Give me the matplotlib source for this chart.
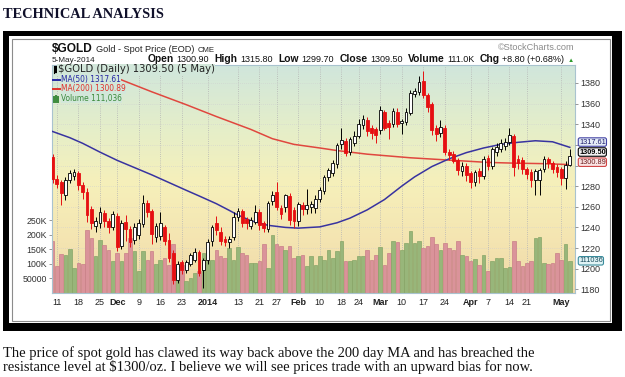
import numpy as np
import pandas as pd
import matplotlib
matplotlib.use("Agg")
import matplotlib.pyplot as plt
from matplotlib.patches import Rectangle
from matplotlib.lines import Line2D
from matplotlib.colors import LinearSegmentedColormap
from matplotlib.transforms import blended_transform_factory, ScaledTranslation

# ------------------------------------------------------------------ data
start_date = "2013-11-08"
end_date = "2014-05-05"
holidays = ["2013-11-28", "2013-12-25", "2014-01-01",
            "2014-01-20", "2014-02-17", "2014-04-18"]

opens = [1308, 1287, 1284, 1271, 1286, 1290, 1293, 1281, 1274, 1258,
         1241, 1244, 1254, 1246, 1240, 1251, 1222, 1245, 1238, 1228,
         1233, 1243, 1264, 1256, 1231, 1232, 1240, 1228, 1215, 1189,
         1206, 1199, 1205, 1208, 1216, 1199, 1208, 1227, 1244, 1236,
         1229, 1226, 1231, 1250, 1256, 1248, 1241, 1245, 1255, 1244,
         1238, 1266, 1274, 1259, 1260, 1270, 1257, 1246, 1262, 1258,
         1260, 1259, 1268, 1275, 1289, 1293, 1301, 1321, 1324, 1313,
         1322, 1329, 1339, 1344, 1336, 1335, 1334, 1352, 1341, 1340,
         1352, 1341, 1342, 1351, 1369, 1371, 1382, 1368, 1360, 1336,
         1332, 1336, 1313, 1311, 1305, 1295, 1300, 1293, 1284, 1295,
         1290, 1307, 1300, 1313, 1316, 1319, 1323, 1329, 1306, 1305,
         1297, 1294, 1286, 1286, 1297, 1306, 1302, 1299, 1297, 1288,
         1300.9]
highs = [1311, 1291, 1286, 1289, 1296, 1297, 1295, 1284, 1278, 1261,
         1250, 1260, 1257, 1249, 1256, 1254, 1247, 1252, 1241, 1244,
         1248, 1271, 1267, 1258, 1244, 1255, 1242, 1235, 1218, 1207,
         1208, 1208, 1215, 1220, 1218, 1210, 1229, 1242, 1251, 1240,
         1232, 1232, 1255, 1259, 1258, 1250, 1250, 1262, 1258, 1246,
         1266, 1275, 1284, 1262, 1272, 1273, 1260, 1265, 1265, 1277,
         1266, 1271, 1279, 1291, 1298, 1305, 1322, 1336, 1327, 1328,
         1333, 1345, 1349, 1347, 1339, 1337, 1358, 1354, 1344, 1356,
         1356, 1345, 1356, 1373, 1375, 1387, 1392, 1370, 1362, 1339,
         1344, 1339, 1316, 1314, 1307, 1303, 1302, 1295, 1296, 1298,
         1309, 1310, 1318, 1322, 1326, 1327, 1336, 1331, 1310, 1308,
         1299, 1297, 1297, 1298, 1309, 1308, 1304, 1301, 1299, 1304,
         1315.8]
lows = [1283, 1278, 1262, 1267, 1283, 1286, 1276, 1268, 1245, 1238,
        1236, 1239, 1240, 1235, 1237, 1217, 1219, 1227, 1221, 1224,
        1229, 1240, 1250, 1224, 1226, 1228, 1223, 1206, 1185, 1186,
        1195, 1196, 1203, 1206, 1193, 1181, 1205, 1222, 1233, 1223,
        1222, 1220, 1228, 1246, 1240, 1238, 1238, 1243, 1237, 1236,
        1236, 1262, 1257, 1248, 1255, 1242, 1239, 1241, 1252, 1253,
        1254, 1254, 1265, 1272, 1285, 1290, 1298, 1316, 1309, 1310,
        1319, 1327, 1335, 1329, 1326, 1322, 1331, 1334, 1326, 1337,
        1337, 1331, 1339, 1349, 1366, 1368, 1365, 1352, 1330, 1324,
        1328, 1310, 1305, 1302, 1291, 1290, 1285, 1278, 1280, 1283,
        1287, 1296, 1297, 1309, 1313, 1315, 1320, 1290, 1297, 1292,
        1287, 1279, 1271, 1271, 1294, 1298, 1293, 1289, 1281, 1277,
        1299.7]
closes = [1287, 1282, 1273, 1286, 1293, 1294, 1281, 1274, 1252, 1244,
          1246, 1255, 1246, 1240, 1253, 1221, 1244, 1238, 1226, 1240,
          1244, 1264, 1255, 1234, 1241, 1244, 1227, 1210, 1189, 1205,
          1199, 1206, 1213, 1216, 1196, 1208, 1226, 1240, 1237, 1227,
          1226, 1229, 1250, 1256, 1244, 1244, 1247, 1255, 1242, 1239,
          1264, 1271, 1260, 1253, 1271, 1247, 1246, 1263, 1258, 1262,
          1263, 1268, 1276, 1289, 1296, 1302, 1320, 1325, 1312, 1326,
          1329, 1340, 1345, 1333, 1332, 1330, 1354, 1336, 1337, 1353,
          1340, 1343, 1352, 1370, 1372, 1381, 1368, 1357, 1334, 1331,
          1337, 1313, 1310, 1304, 1296, 1300, 1291, 1284, 1294, 1290,
          1306, 1300, 1316, 1318, 1322, 1323, 1330, 1299, 1302, 1297,
          1292, 1286, 1295, 1296, 1306, 1302, 1297, 1294, 1288, 1300.7,
          1309.5]
volumes_k = [178, 92.4, 135, 132.7, 153.4, 86.7, 103.9, 100.5, 218.9, 190.1,
             126.9, 184.4, 164.9, 149.9, 109.7, 138.4, 112, 138.4, 190.1, 144.2,
             75.2, 144.2, 115.4, 146.5, 100.5, 115.4, 121.2, 98.2, 167.2, 98.2,
             98.2, 40.7, 52.2, 69.5, 75.2, 138.4, 109.7, 115.4, 149.9, 126.9,
             121.2, 155.7, 115.4, 158, 138.4, 132.7, 103.9, 103.9, 109.7, 167.2,
             86.7, 201.6, 167.2, 161.4, 149.9, 161.4, 121.2, 126.9, 132.7, 92.4,
             126.9, 98.2, 126.9, 115.4, 149.9, 121.2, 144.2, 178.6, 112, 109.7,
             115.4, 126.9, 126.9, 149.9, 115.4, 132.7, 158, 98.2, 138.4, 178.6,
             176.3, 149.9, 172.9, 213.1, 172.9, 178.6, 155.7, 161.4, 192.4, 167.2,
             149.9, 172.9, 155.7, 149.9, 178.6, 132.7, 126.9, 109.7, 118.9, 98.2,
             132.7, 75.2, 112, 121.2, 121.2, 86.7, 89, 178.6, 112, 92.4,
             103.9, 112, 190.1, 193.6, 103.9, 100.5, 103.9, 138.4, 115.4, 167.2,
             111.036]

ma50_dates = ["2013-11-08", "2013-11-14", "2013-11-19", "2013-11-25", "2013-12-02",
              "2013-12-06", "2013-12-12", "2013-12-18", "2013-12-24", "2013-12-30",
              "2014-01-06", "2014-01-09", "2014-01-13", "2014-01-16", "2014-01-23",
              "2014-01-29", "2014-02-03", "2014-02-10", "2014-02-14", "2014-02-20",
              "2014-02-26", "2014-03-04", "2014-03-10", "2014-03-13", "2014-03-19",
              "2014-03-25", "2014-03-31", "2014-04-04", "2014-04-10", "2014-04-16",
              "2014-04-23", "2014-04-29", "2014-05-05"]
ma50_values = [1333, 1327, 1321.5, 1313, 1305, 1298, 1291, 1283.5, 1276, 1270.5,
               1263, 1256.5, 1252, 1246.5, 1242, 1240, 1239.3, 1240.5, 1244.5, 1249,
               1257, 1267, 1280, 1289, 1299, 1306.5, 1312.5, 1317, 1320.5, 1322.5,
               1324, 1323, 1317.61]
ma200_dates = ["2013-11-08", "2013-11-20", "2013-12-03", "2013-12-12", "2013-12-24",
               "2014-01-06", "2014-01-16", "2014-01-24", "2014-01-31", "2014-02-10",
               "2014-02-14", "2014-02-26", "2014-03-12", "2014-03-26", "2014-04-07",
               "2014-04-15", "2014-04-25", "2014-05-05"]
ma200_values = [1411, 1397, 1383, 1371.5, 1359, 1347.5, 1335, 1326, 1320.5, 1317,
                1314.5, 1311, 1307.5, 1305, 1303, 1302.3, 1301.8, 1300.89]

tick_dates = ["2013-11-11", "2013-11-18", "2013-11-25", "2013-12-02", "2013-12-09",
              "2013-12-16", "2013-12-23", "2014-01-02", "2014-01-13", "2014-01-21",
              "2014-01-27", "2014-02-03", "2014-02-10", "2014-02-18", "2014-02-24",
              "2014-03-03", "2014-03-10", "2014-03-17", "2014-03-24", "2014-04-01",
              "2014-04-07", "2014-04-14", "2014-04-21", "2014-05-01"]
tick_labels = ["11", "18", "25", "Dec", "9", "16", "23", "2014", "13", "21",
               "27", "Feb", "10", "18", "24", "Mar", "10", "17", "24", "Apr",
               "7", "14", "21", "May"]
bold_tick_labels = ["Dec", "2014", "Feb", "Mar", "Apr", "May"]

price_ticks = [1180, 1200, 1220, 1240, 1260, 1280, 1300, 1320, 1340, 1360, 1380]
# 1300 and 1320 sit under the last-value boxes, as in the source chart
hidden_price_labels = [1300, 1320]
volume_ticks = [50000, 100000, 150000, 200000, 250000]
volume_tick_labels = ["50000", "100K", "150K", "200K", "250K"]

last_close = 1309.50
last_ma50 = 1317.61
last_ma200 = 1300.89
last_volume = 111036

header_pieces = [("Open", "bold"), ("1300.90", "normal"), ("High", "bold"),
                 ("1315.80", "normal"), ("Low", "bold"), ("1299.70", "normal"),
                 ("Close", "bold"), ("1309.50", "normal"), ("Volume", "bold"),
                 ("111.0K", "normal"), ("Chg", "bold"), ("+8.80 (+0.68%)", "normal")]

title_text = "TECHNICAL ANALYSIS"
caption_lines = ["The price of spot gold has clawed its way back above the 200 day MA and has breached the",
                 "resistance level at $1300/oz. I believe we will see prices trade with an upward bias for now."]

# ------------------------------------------------------------------ setup
plt.rcParams["font.family"] = ["Liberation Sans", "DejaVu Sans"]
W, H = 625, 377
fig = plt.figure(figsize=(W / 100, H / 100), dpi=100)
fig.patch.set_facecolor("white")
renderer = fig.canvas.get_renderer()


def fx(x):
    return x / W


def fy(y):
    return 1 - y / H


def frect(x0, y0, x1, y1, **kw):
    r = Rectangle((fx(x0), fy(y1)), (x1 - x0) / W, (y1 - y0) / H,
                  transform=fig.transFigure, **kw)
    fig.add_artist(r)
    return r


def fline(xs, ys, **kw):
    fig.add_artist(Line2D([fx(v) for v in xs], [fy(v) for v in ys],
                          transform=fig.transFigure, **kw))


def width_of(t):
    return t.get_window_extent(renderer).width


# outer frame
frect(3, 31, 622, 331, facecolor="black", edgecolor="none", zorder=-3)
frect(9, 36, 612, 323, facecolor="white", edgecolor="none", zorder=-2)
frect(11.5, 38.5, 609.5, 320.5, facecolor="none", edgecolor="#8c8c8c", lw=0.8, zorder=-1)

# title
t = fig.text(fx(3), fy(18.5), title_text, fontsize=12, fontweight="bold",
             family="Liberation Serif", color="#10102a", va="baseline")
t.set_fontsize(12 * 160 / width_of(t))

# caption
c1 = fig.text(fx(3), fy(356.5), caption_lines[0], fontsize=10,
              family="Liberation Serif", color="#111111", va="baseline")
cs = 10 * 532 / width_of(c1)
c1.set_fontsize(cs)
fig.text(fx(3), fy(370.5), caption_lines[1], fontsize=cs,
         family="Liberation Serif", color="#111111", va="baseline")

# ------------------------------------------------------------------ axes
dates = pd.bdate_range(start_date, end_date)
dates = dates[~dates.isin(pd.to_datetime(holidays))]
pos = np.arange(len(dates))
date_pos = {d.strftime("%Y-%m-%d"): i for i, d in enumerate(dates)}

o = np.array(opens, float)
h = np.array(highs, float)
l = np.array(lows, float)
c = np.array(closes, float)
vol = np.array(volumes_k) * 1000

rect_ax = [fx(52), fy(293), 523 / W, 228 / H]
bg = fig.add_axes(rect_ax, zorder=0)
cmap = LinearSegmentedColormap.from_list(
    "bg", [(0, "#d0e6dc"), (0.28, "#e5eec9"), (0.52, "#f6f0ba"),
           (0.78, "#f4e4b1"), (1, "#eed8a6")])
bg.imshow(np.linspace(0, 1, 256).reshape(-1, 1), aspect="auto", cmap=cmap,
          extent=[0, 1, 0, 1], origin="upper")
bg.set_axis_off()

ax = fig.add_axes(rect_ax, zorder=1)
ax.set_facecolor("none")
axp = ax.twinx()
axp.set_facecolor("none")

price_lo, price_hi = 1176.4, 1397.45
ax.set_xlim(-0.12, 121.2)
ax.set_ylim(0, 786000)
axp.set_ylim(price_lo, price_hi)

# grid
tick_pos = [date_pos[d] for d in tick_dates]
for p in tick_pos:
    ax.axvline(p, color="#b4b4b4", lw=0.6, ls=(0, (1, 1.6)), zorder=1)
for tv in price_ticks:
    f = (tv - price_lo) / (price_hi - price_lo)
    ax.plot([0, 1], [f, f], transform=ax.transAxes, color="#cfcfcf",
            lw=0.5, ls=(0, (1, 2)), zorder=1)

up = c >= o
red = "#e60f12"
vcol = np.where(up, "#98b67a", "#da939a")
vedge = np.where(up, "#86a567", "#c97f88")
ax.bar(pos, vol, width=0.84, color=vcol, edgecolor=vedge, linewidth=0.5, zorder=2)

# moving averages
axp.plot([date_pos[d] for d in ma200_dates], ma200_values, color="#e0473e", lw=1.1,
         zorder=3, solid_joinstyle="round")
axp.plot([date_pos[d] for d in ma50_dates], ma50_values, color="#3833a0", lw=1.1,
         zorder=3, solid_joinstyle="round")

# candles
ccol = np.where(up, "black", red)
face = np.where(up, "white", red)
axp.vlines(pos, l, h, colors=ccol, lw=0.7, zorder=4)
axp.bar(pos, np.maximum(np.abs(c - o), 0.8), bottom=np.minimum(o, c), width=0.64,
        color=face, edgecolor=ccol, linewidth=0.6, zorder=5)

# spines
for s in ax.spines.values():
    s.set_color("#a9c3cf")
    s.set_linewidth(0.8)
for s in axp.spines.values():
    s.set_visible(False)

# ticks
ax.set_xticks(tick_pos)
ax.set_xticklabels(tick_labels)
ax.tick_params(axis="x", length=0, pad=3.5, labelsize=6.5, labelcolor="#222222")
for lab in ax.get_xticklabels():
    if lab.get_text() in bold_tick_labels:
        lab.set_fontweight("bold")
ax.set_yticks(volume_ticks)
ax.set_yticklabels(volume_tick_labels)
ax.tick_params(axis="y", length=2, width=0.6, pad=1.5, labelsize=6.3,
               color="#888888", labelcolor="#333333")
axp.set_yticks(price_ticks)
axp.set_yticklabels(["" if v in hidden_price_labels else str(v) for v in price_ticks])
axp.tick_params(axis="y", length=2, width=0.6, pad=2, labelsize=6.5,
                color="#888888", labelcolor="#333333")
axp.tick_params(axis="x", bottom=False, labelbottom=False)

# value boxes on the right (nudged a few pixels like the reference labels)
trp = blended_transform_factory(axp.transAxes, axp.transData)
xoff = 1 + 4 / 523


def shifted(tr, dy_px):
    return tr + ScaledTranslation(0, dy_px / 100, fig.dpi_scale_trans)


box_kw = dict(fontsize=5.3, va="center", ha="left")
axp.text(xoff, last_ma50, f"{last_ma50:.2f}", transform=shifted(trp, 5.3), color="#1c1c6c",
         bbox=dict(boxstyle="round,pad=0.1,rounding_size=0.25", fc="#e4ecf7", ec="#4545a5", lw=0.8),
         **box_kw)
axp.text(xoff, last_ma200, f"{last_ma200:.2f}", transform=shifted(trp, 2.4), color="#6c1c1c",
         bbox=dict(boxstyle="round,pad=0.1,rounding_size=0.25", fc="#fbe4e4", ec="#d04545", lw=0.8),
         **box_kw)
axp.text(xoff, last_close, f"{last_close:.2f}", transform=shifted(trp, 3.7), color="black",
         fontweight="bold",
         bbox=dict(boxstyle="round,pad=0.1,rounding_size=0.25", fc="#f2f2f2", ec="black", lw=0.8),
         **box_kw)
trv = blended_transform_factory(ax.transAxes, ax.transData)
ax.text(xoff, last_volume, f"{last_volume}", transform=trv, color="#1c4c5c", clip_on=False,
        bbox=dict(boxstyle="round,pad=0.1,rounding_size=0.25", fc="#e0f3f5", ec="#3a8c9c", lw=0.8),
        **box_kw)

# ------------------------------------------------------------------ header
x = 52
t = fig.text(fx(x), fy(52), "$GOLD", fontsize=8.6, fontweight="bold", va="baseline", color="#111111")
x += width_of(t) + 3
t = fig.text(fx(x), fy(52), "Gold - Spot Price (EOD)", fontsize=6.6, va="baseline", color="#222222")
x += width_of(t) + 3
fig.text(fx(x), fy(52), "CME", fontsize=5.6, va="baseline", color="#222222")
fig.text(fx(575), fy(50.5), "\u00a9StockCharts.com", fontsize=6.6, va="baseline",
         ha="right", color="#8a8a8a")
fig.text(fx(52), fy(62.5), "5-May-2014", fontsize=5.9, va="baseline", color="#222222")

texts = []
for s, wt in header_pieces:
    texts.append(fig.text(0, fy(62.5), s, fontsize=7.0 if wt == "bold" else 6.1,
                          fontweight=wt, va="baseline", color="#111111"))
gaps = [2.5 if wt == "bold" else 5.5 for _, wt in header_pieces]
widths = [width_of(t) for t in texts]
target = 566 - 148 - sum(gaps[:-1])
scale = target / sum(widths)
x = 148
for t, g in zip(texts, gaps):
    t.set_fontsize(t.get_fontsize() * scale)
    t.set_x(fx(x))
    x += width_of(t) + g
fig.text(fx(568), fy(62), "\u25b2", fontsize=4.5, va="baseline", color="#2e9a2e")

# ------------------------------------------------------------------ legend
leg_bg = "#d2e7da"
bb = dict(boxstyle="square,pad=0.05", fc=leg_bg, ec="none")
lt = fig.text(fx(58), fy(69.5), "$GOLD (Daily) 1309.50 (5 May)", fontsize=6.5,
              family="DejaVu Sans", va="center", color="#222222", bbox=bb)
lt.set_fontsize(6.5 * 158 / width_of(lt))
l2 = fig.text(fx(61), fy(79.5), f"MA(50) {last_ma50:.2f}", fontsize=6, family="DejaVu Sans",
              va="center", color="#2626a4", bbox=bb)
ls2 = 6 * 61 / width_of(l2)
l2.set_fontsize(ls2)
fig.text(fx(61), fy(89), f"MA(200) {last_ma200:.2f}", fontsize=ls2, family="DejaVu Sans",
         va="center", color="#e0302a", bbox=bb)
fig.text(fx(61), fy(98.5), "Volume 111,036", fontsize=ls2, family="DejaVu Sans",
         va="center", color="#3b8a3b", bbox=bb)
# legend icons
fline([53.5, 53.5], [66, 73], color="black", lw=0.8)
fline([55.5, 55.5], [67, 72], color="black", lw=1.6)
fline([53, 59.5], [79.5, 79.5], color="#2626a4", lw=1.4)
fline([53, 59.5], [89, 89], color="#e0302a", lw=1.4)
for xi, top in [(53.8, 96.5), (55.8, 95.5), (57.8, 97)]:
    fline([xi, xi], [top, 101.5], color="#3b8a3b", lw=1.4)

fig.savefig("out.png", dpi=100)
